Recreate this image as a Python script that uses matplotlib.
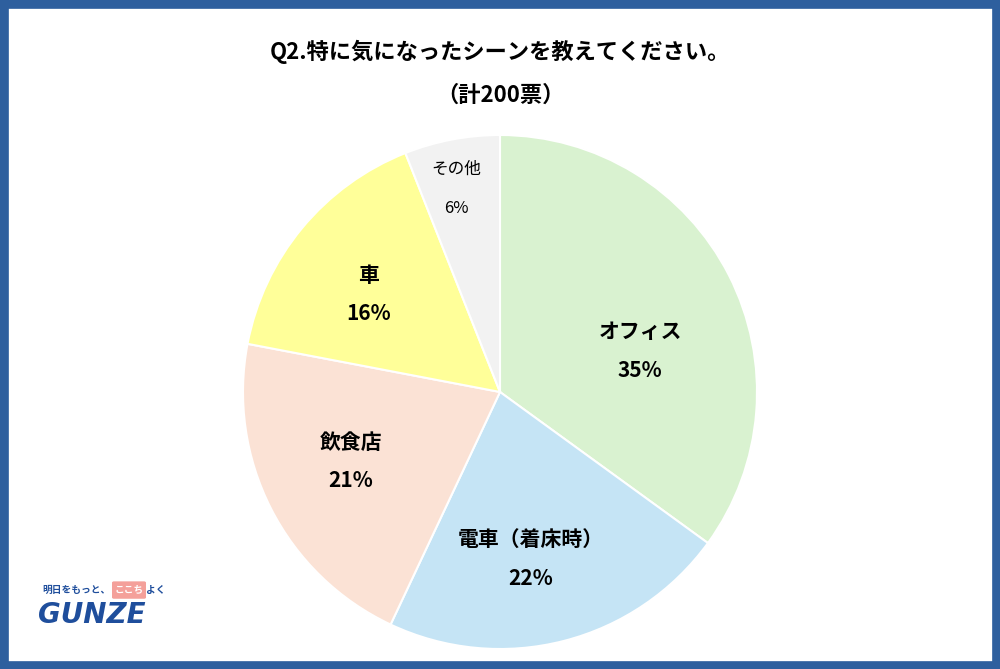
import matplotlib.pyplot as plt
from matplotlib.patches import Rectangle, FancyBboxPatch

plt.rcParams['font.family'] = ['Noto Sans CJK JP', 'DejaVu Sans']

labels = ["オフィス", "電車（着床時）", "飲食店", "車", "その他"]
values = [35, 22, 21, 16, 6]
colors = ["#d9f2d0", "#c5e4f5", "#fbe2d5", "#ffff99", "#f2f2f2"]

fig = plt.figure(figsize=(10, 6.69), dpi=100)
fig.patches.append(Rectangle((0, 0), 1, 1, transform=fig.transFigure,
                             fill=False, edgecolor="#2e5f9e", linewidth=12))

fig.text(0.5, 0.922, "Q2.特に気になったシーンを教えてください。", ha="center", va="center",
         fontsize=16, fontweight="bold")
fig.text(0.5, 0.858, "（計200票）", ha="center", va="center", fontsize=16, fontweight="bold")

ax = fig.add_axes([0.5 - 0.257, (669 - 392 - 257) / 669, 0.514, 514 / 669])
wedges, _ = ax.pie(values, colors=colors, startangle=90, counterclock=False,
                   wedgeprops=dict(edgecolor="white", linewidth=1.5))
ax.set_xlim(-1, 1)
ax.set_ylim(-1, 1)
ax.set_aspect("equal")

pos = [(0.545, 0.16), (0.12, -0.65), (-0.58, -0.27), (-0.51, 0.38), (-0.17, 0.79)]
for lab, v, (x, y) in zip(labels, values, pos):
    small = lab == "その他"
    fs = 12 if small else 15
    fw = "normal" if small else "bold"
    ax.text(x, y + 0.075, lab, ha="center", va="center", fontsize=fs, fontweight=fw)
    ax.text(x, y - 0.075, f"{v}%", ha="center", va="center", fontsize=fs, fontweight=fw)

fig.text(0.042, 0.118, "明日をもっと、", ha="left", va="center", fontsize=7,
         fontweight="bold", color="#1f4e9c")
fig.patches.append(FancyBboxPatch((0.114, 0.107), 0.03, 0.022, transform=fig.transFigure,
                                  boxstyle="round,pad=0.002", facecolor="#f4a09a", edgecolor="none"))
fig.text(0.129, 0.118, "ここち", ha="center", va="center", fontsize=7, fontweight="bold", color="white")
fig.text(0.146, 0.118, "よく", ha="left", va="center", fontsize=7, fontweight="bold", color="#1f4e9c")
fig.text(0.038, 0.08, "GUNZE", ha="left", va="center", fontsize=20, fontweight="bold",
         color="#1f4e9c", family="DejaVu Sans", style="italic")

fig.savefig("out.png", dpi=100)
